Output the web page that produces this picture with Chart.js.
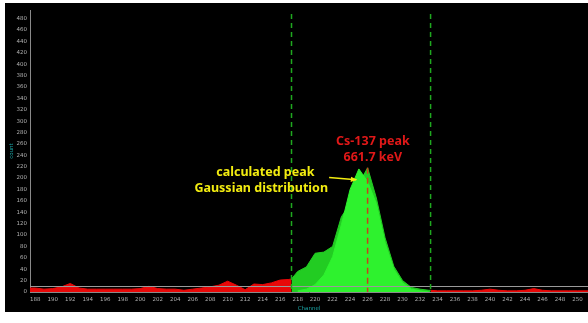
<!DOCTYPE html>
<html>
<head>
<meta charset="utf-8">
<script src="https://cdn.jsdelivr.net/npm/chart.js@4.4.1/dist/chart.umd.min.js"></script>
<style>
  html, body { margin: 0; padding: 0; background: #fff; }
  #wrap { position: absolute; left: 5px; top: 3px; width: 583px; height: 309px; background: #000; }
</style>
</head>
<body>
<div id="wrap"><canvas id="spectrum"></canvas></div>
<script>
// measured spectrum (channel -> count)
const channels = [187.4, 188, 189, 190, 191, 192, 193, 194, 195, 196, 197, 198, 199, 200,
  201, 202, 203, 204, 205, 206, 207, 208, 209, 210, 211, 212, 213, 214, 215, 216, 217, 217.3,
  218, 219, 220, 221, 222, 223, 224, 225, 226, 227, 228, 229, 230, 231, 232, 233, 233.2,
  234, 235, 236, 237, 238, 239, 240, 241, 242, 243, 244, 245, 246, 247, 248, 249, 250, 251.2];
const counts = [7, 7, 5, 6, 9, 15, 7, 5, 5, 5, 5, 5, 5, 6,
  10, 6, 5, 5, 3, 5, 7, 9, 12, 19, 12, 4, 14, 13, 16, 21, 22, 23,
  36, 44, 68, 70, 80, 132, 155, 190, 218, 165, 95, 45, 20, 8, 5, 3, 3,
  2, 2, 2, 2, 2, 3, 5, 3, 2, 2, 3, 6, 3, 2, 2, 2, 2, 2];

// calculated gaussian peak
const fitChannels = [218, 219, 220, 221, 222, 223, 224, 225, 226, 227, 228, 229, 230, 231, 232, 233];
const fitCounts = [2, 5, 13, 30, 62, 118, 180, 216, 194, 155, 86, 40, 16, 5, 2, 0];

const roiStart = 217.3;
const roiEnd = 233.2;
const peakChannel = 226;
const peakCount = 218;
const threshold = 10;

const xTicks = [];
for (let c = 188; c <= 250; c += 2) xTicks.push(c);

function pts(from, to) {
  const out = [];
  channels.forEach((c, i) => {
    if (c >= from && c <= to) out.push({ x: c, y: counts[i] });
  });
  return out;
}

const RED = "#e80808";
const DARK_GREEN = "#22cc22";
const BRIGHT_GREEN = "#2ef22e";

const overlay = {
  id: "overlay",
  afterDatasetsDraw(chart) {
    const { ctx, chartArea: a, scales: { x, y } } = chart;
    ctx.save();

    // threshold line
    ctx.strokeStyle = "#9a9a9a";
    ctx.lineWidth = 1;
    ctx.beginPath();
    ctx.moveTo(a.left, Math.round(y.getPixelForValue(threshold)) + 0.5);
    ctx.lineTo(a.right, Math.round(y.getPixelForValue(threshold)) + 0.5);
    ctx.stroke();

    // ROI bounds
    ctx.strokeStyle = "#1fa81f";
    ctx.lineWidth = 1.5;
    ctx.setLineDash([5, 4]);
    [roiStart, roiEnd].forEach(c => {
      const px = x.getPixelForValue(c);
      ctx.beginPath();
      ctx.moveTo(px, a.top + 4);
      ctx.lineTo(px, a.bottom);
      ctx.stroke();
    });

    // Cs-137 marker
    ctx.strokeStyle = "#c8401c";
    ctx.setLineDash([6, 4]);
    const pk = x.getPixelForValue(peakChannel);
    ctx.beginPath();
    ctx.moveTo(pk, y.getPixelForValue(peakCount));
    ctx.lineTo(pk, a.bottom);
    ctx.stroke();
    ctx.setLineDash([]);

    // labels
    ctx.font = "bold 12.5px 'Noto Sans', sans-serif";
    ctx.textBaseline = "middle";
    ctx.textAlign = "center";
    ctx.fillStyle = "#e01818";
    ctx.fillText("Cs-137 peak", x.getPixelForValue(226.6), y.getPixelForValue(264));
    ctx.fillText("661.7 keV", x.getPixelForValue(226.6), y.getPixelForValue(236));

    ctx.textAlign = "left";
    ctx.fillStyle = "#f2ec10";
    ctx.fillText("calculated peak", x.getPixelForValue(208.7), y.getPixelForValue(210));
    ctx.fillText("Gaussian distribution", x.getPixelForValue(206.2), y.getPixelForValue(182));

    // arrow
    const x1 = x.getPixelForValue(221.6), y1 = y.getPixelForValue(201);
    const x2 = x.getPixelForValue(224.7), y2 = y.getPixelForValue(197);
    ctx.strokeStyle = "#f2ec10";
    ctx.lineWidth = 1.5;
    ctx.beginPath();
    ctx.moveTo(x1, y1);
    ctx.lineTo(x2, y2);
    ctx.stroke();
    const ang = Math.atan2(y2 - y1, x2 - x1);
    ctx.fillStyle = "#f2ec10";
    ctx.beginPath();
    ctx.moveTo(x2 + 1, y2);
    ctx.lineTo(x2 - 6 * Math.cos(ang - 0.45), y2 - 6 * Math.sin(ang - 0.45));
    ctx.lineTo(x2 - 6 * Math.cos(ang + 0.45), y2 - 6 * Math.sin(ang + 0.45));
    ctx.closePath();
    ctx.fill();

    ctx.restore();
  }
};

const tickFont = { family: "'DejaVu Sans', sans-serif", size: 5.5 };

new Chart(document.getElementById("spectrum"), {
  type: "line",
  data: {
    datasets: [
      { data: pts(187, roiStart), borderColor: RED, backgroundColor: RED, fill: "origin", borderWidth: 1, pointRadius: 0, tension: 0, order: 3 },
      { data: pts(roiStart, roiEnd), borderColor: DARK_GREEN, backgroundColor: DARK_GREEN, fill: "origin", borderWidth: 1, pointRadius: 0, tension: 0, order: 3 },
      { data: pts(roiEnd, 252), borderColor: RED, backgroundColor: RED, fill: "origin", borderWidth: 1, pointRadius: 0, tension: 0, order: 3 },
      { data: fitChannels.map((c, i) => ({ x: c, y: fitCounts[i] })), borderColor: BRIGHT_GREEN, backgroundColor: BRIGHT_GREEN, fill: "origin", borderWidth: 1, pointRadius: 0, tension: 0, order: 1 }
    ]
  },
  options: {
    responsive: true,
    maintainAspectRatio: false,
    animation: false,
    layout: { padding: { top: 7, right: 0, left: 3, bottom: 0 } },
    plugins: { legend: { display: false }, tooltip: { enabled: false } },
    scales: {
      x: {
        type: "linear",
        min: 187.4,
        max: 251.2,
        afterBuildTicks: s => { s.ticks = xTicks.map(v => ({ value: v })); },
        afterFit: s => { s.height = 20; },
        grid: { display: false, drawTicks: false },
        border: { color: "#8a8a8a" },
        ticks: { color: "#b0b0b0", font: tickFont, padding: 4, maxRotation: 0, autoSkip: false },
        title: { display: true, text: "Channel", color: "#1aa6a6", font: { family: "'DejaVu Sans', sans-serif", size: 5.5 }, padding: 0 }
      },
      y: {
        min: 0,
        max: 495,
        afterBuildTicks: s => { s.ticks = s.ticks.filter(t => t.value % 20 === 0); },
        afterFit: s => { s.width = 22; },
        grid: { display: false, drawTicks: false },
        border: { color: "#8a8a8a" },
        ticks: { stepSize: 20, color: "#b0b0b0", font: tickFont, padding: 3 },
        title: { display: true, text: "count", color: "#1aa6a6", font: { family: "'DejaVu Sans', sans-serif", size: 5.5 }, padding: 0 }
      }
    }
  },
  plugins: [overlay]
});
</script>
</body>
</html>
